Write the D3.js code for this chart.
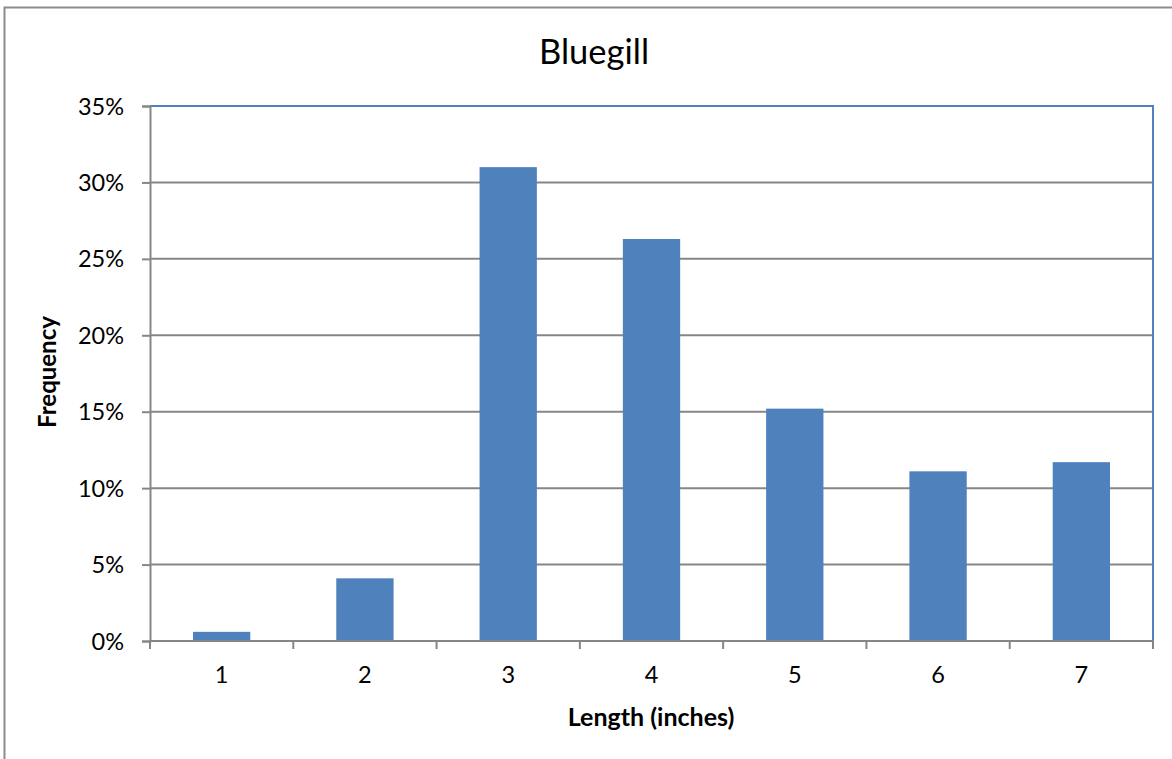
<!DOCTYPE html>
<html><head><meta charset="utf-8">
<script src="https://cdn.jsdelivr.net/npm/d3@7"></script>
<style>body{margin:0;background:#fff}svg{display:block}</style>
</head><body>
<svg id="c" width="1172" height="759"></svg>
<script>
const categories = ["1","2","3","4","5","6","7"];
const frequency = [0.006, 0.041, 0.310, 0.263, 0.152, 0.111, 0.117];
const yTicks = [0,0.05,0.10,0.15,0.20,0.25,0.30,0.35];
const title = "Bluegill", xTitle = "Length (inches)", yTitle = "Frequency";

const svg = d3.select("#c");
const font = "Lato, 'Open Sans', sans-serif";
const L=150, R=1153, T=106, B=641;

// outer chart border
svg.append("path").attr("d","M4.5,759 V7.5 H1172").attr("fill","none").attr("stroke","#8c8c8c").attr("stroke-width",2);

const x = d3.scaleBand().domain(categories).range([L,R]).paddingInner(0.6).paddingOuter(0.3);
const xb = d3.scaleBand().domain(categories).range([L,R]);
const y = d3.scaleLinear().domain([0,0.35]).range([B,T]);

// gridlines
svg.append("g").selectAll("line").data(yTicks.filter(d=>d>0 && d<0.35)).join("line")
  .attr("x1",L).attr("x2",R).attr("y1",d=>y(d)).attr("y2",d=>y(d))
  .attr("stroke","#868686").attr("stroke-width",2);

// plot border top/right (blue)
svg.append("path").attr("d",`M${L},${y(0.35)} H${R} V${B}`).attr("fill","none").attr("stroke","#4f81bd").attr("stroke-width",2);

// bars
svg.append("g").selectAll("rect").data(frequency).join("rect")
  .attr("x",(d,i)=>x(categories[i])).attr("width",x.bandwidth())
  .attr("y",d=>y(d)).attr("height",d=>B-y(d)).attr("fill","#4f81bd");

// y axis
const yAxis = d3.axisLeft(y).tickValues(yTicks).tickFormat(d3.format(".0%")).tickSize(8).tickPadding(18);
const gy = svg.append("g").attr("transform",`translate(${L},0)`).call(yAxis);
gy.select(".domain").attr("stroke","#868686").attr("stroke-width",2);
gy.selectAll(".tick line").attr("stroke","#868686").attr("stroke-width",2);
gy.selectAll("text").attr("font-family",font).attr("font-size",23.5).attr("fill","#000").attr("dy","0.34em");

// x axis
const gx = svg.append("g").attr("transform",`translate(0,${B})`);
gx.append("line").attr("x1",L).attr("x2",R).attr("stroke","#868686").attr("stroke-width",2);
const bounds = categories.map(c=>xb(c)).concat([R]);
gx.selectAll(".tk").data(bounds).join("line").attr("class","tk")
  .attr("x1",d=>d).attr("x2",d=>d).attr("y1",0).attr("y2",8).attr("stroke","#868686").attr("stroke-width",2);
gx.selectAll(".lb").data(categories).join("text").attr("class","lb")
  .attr("x",d=>xb(d)+xb.bandwidth()/2).attr("y",42).attr("text-anchor","middle")
  .attr("font-family",font).attr("font-size",23.5).attr("fill","#000").text(d=>d);

// titles
svg.append("text").attr("x",594).attr("y",64).attr("text-anchor","middle")
  .attr("font-family",font).attr("font-size",34.5).attr("fill","#000").text(title);
svg.append("text").attr("x",651).attr("y",726).attr("text-anchor","middle")
  .attr("font-family",font).attr("font-size",25).attr("font-weight","bold").attr("fill","#000").text(xTitle);
svg.append("text").attr("transform","translate(56,372) rotate(-90)").attr("text-anchor","middle")
  .attr("font-family",font).attr("font-size",24).attr("font-weight","bold").attr("fill","#000").text(yTitle);
</script>
</body></html>
